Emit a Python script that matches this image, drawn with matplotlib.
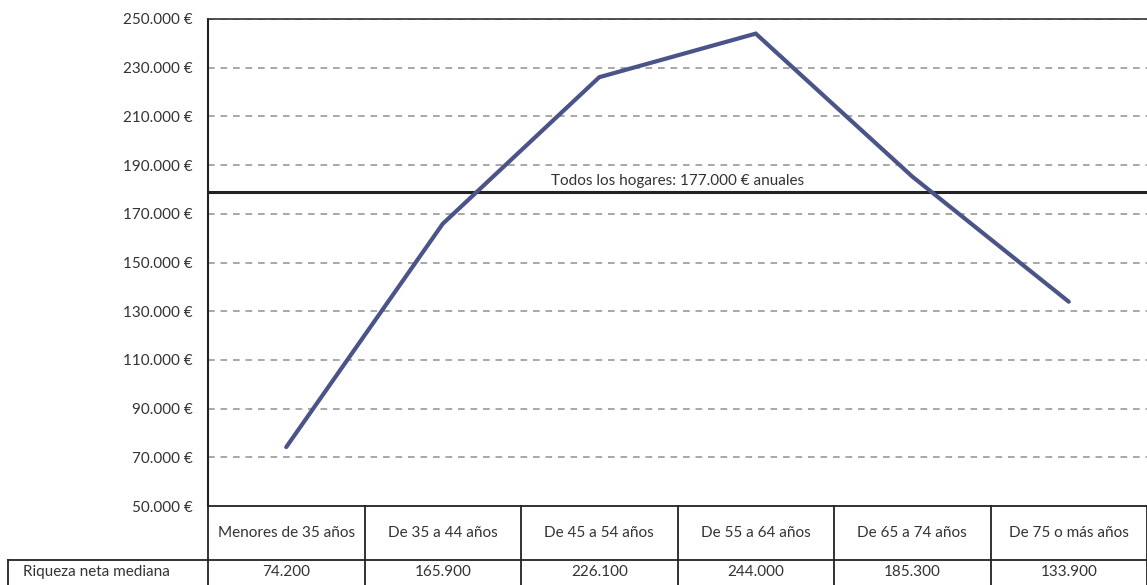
import matplotlib.pyplot as plt
from matplotlib.ticker import FuncFormatter

# -- Data --
categorias = ['Menores de 35 años', 'De 35 a 44 años', 'De 45 a 54 años',
              'De 55 a 64 años', 'De 65 a 74 años', 'De 75 o más años']
riqueza = [74200, 165900, 226100, 244000, 185300, 133900]
fila_label = 'Riqueza neta mediana'
todos_valor = 179000  # where the reference line sits in the picture
todos_texto = 'Todos los hogares: 177.000 € anuales'
yticks = list(range(50000, 250001, 20000))

plt.rcParams['font.family'] = ['Lato', 'DejaVu Sans']
txt_color = '#333333'
fs = 11

fig = plt.figure(figsize=(11.47, 5.85), dpi=100)
ax = fig.add_axes([208/1147, 1 - 506/585, 1 - 208/1147, (506 - 19)/585])

x = list(range(len(categorias)))
ax.plot(x, riqueza, color='#4b5488', lw=3, solid_capstyle='round', solid_joinstyle='miter', zorder=4)

# gridlines
for v in yticks[1:]:
    ax.axhline(v, color='#999999', lw=1.2, ls=(0, (4, 3.5)), zorder=1)
ax.axhline(todos_valor, color='#222222', lw=2.2, zorder=3)
ax.text(2.5, todos_valor + 1800, todos_texto, ha='center', va='bottom',
        fontsize=fs, color=txt_color)

ax.set_xlim(-0.5, len(categorias) - 0.5)
ax.set_ylim(50000, 250000)
ax.set_yticks(yticks)
ax.yaxis.set_major_formatter(FuncFormatter(lambda v, p: f'{int(v):,} €'.replace(',', '.')))
ax.tick_params(axis='y', length=0, pad=11, labelsize=fs, labelcolor=txt_color)
ax.set_xticks([])

for s in ['right', 'bottom']:
    ax.spines[s].set_visible(False)
ax.spines['left'].set_color('#222222')
ax.spines['left'].set_linewidth(1.5)
ax.spines['top'].set_color('#333333')
ax.spines['top'].set_linewidth(1.2)

# -- Table below the plot --
trans = ax.get_xaxis_transform()
h_head = 54 / 487
h_row = 28 / 487
y0 = 0
y1 = -h_head
y2 = -h_head - h_row
xl = -0.5 - 200 / 156.5
kw = dict(transform=trans, clip_on=False, color='#222222', lw=1.3)

ax.plot([-0.5, 5.5], [y0, y0], **kw)
ax.plot([xl, 5.5], [y1, y1], **kw)
for i in range(len(categorias) + 1):
    ax.plot([i - 0.5, i - 0.5], [y0, y2], **kw)
ax.plot([xl, xl], [y1, y2], **kw)

for i, (c, v) in enumerate(zip(categorias, riqueza)):
    ax.text(i, (y0 + y1) / 2, c, transform=trans, ha='center', va='center',
            fontsize=fs, color=txt_color)
    ax.text(i, (y1 + y2) / 2 + 0.004, f'{v:,}'.replace(',', '.'), transform=trans,
            ha='center', va='center', fontsize=fs, color=txt_color)
ax.text(xl + 0.095, (y1 + y2) / 2 + 0.004, fila_label, transform=trans, ha='left', va='center',
        fontsize=fs, color=txt_color)

fig.savefig('out.png', dpi=100)
